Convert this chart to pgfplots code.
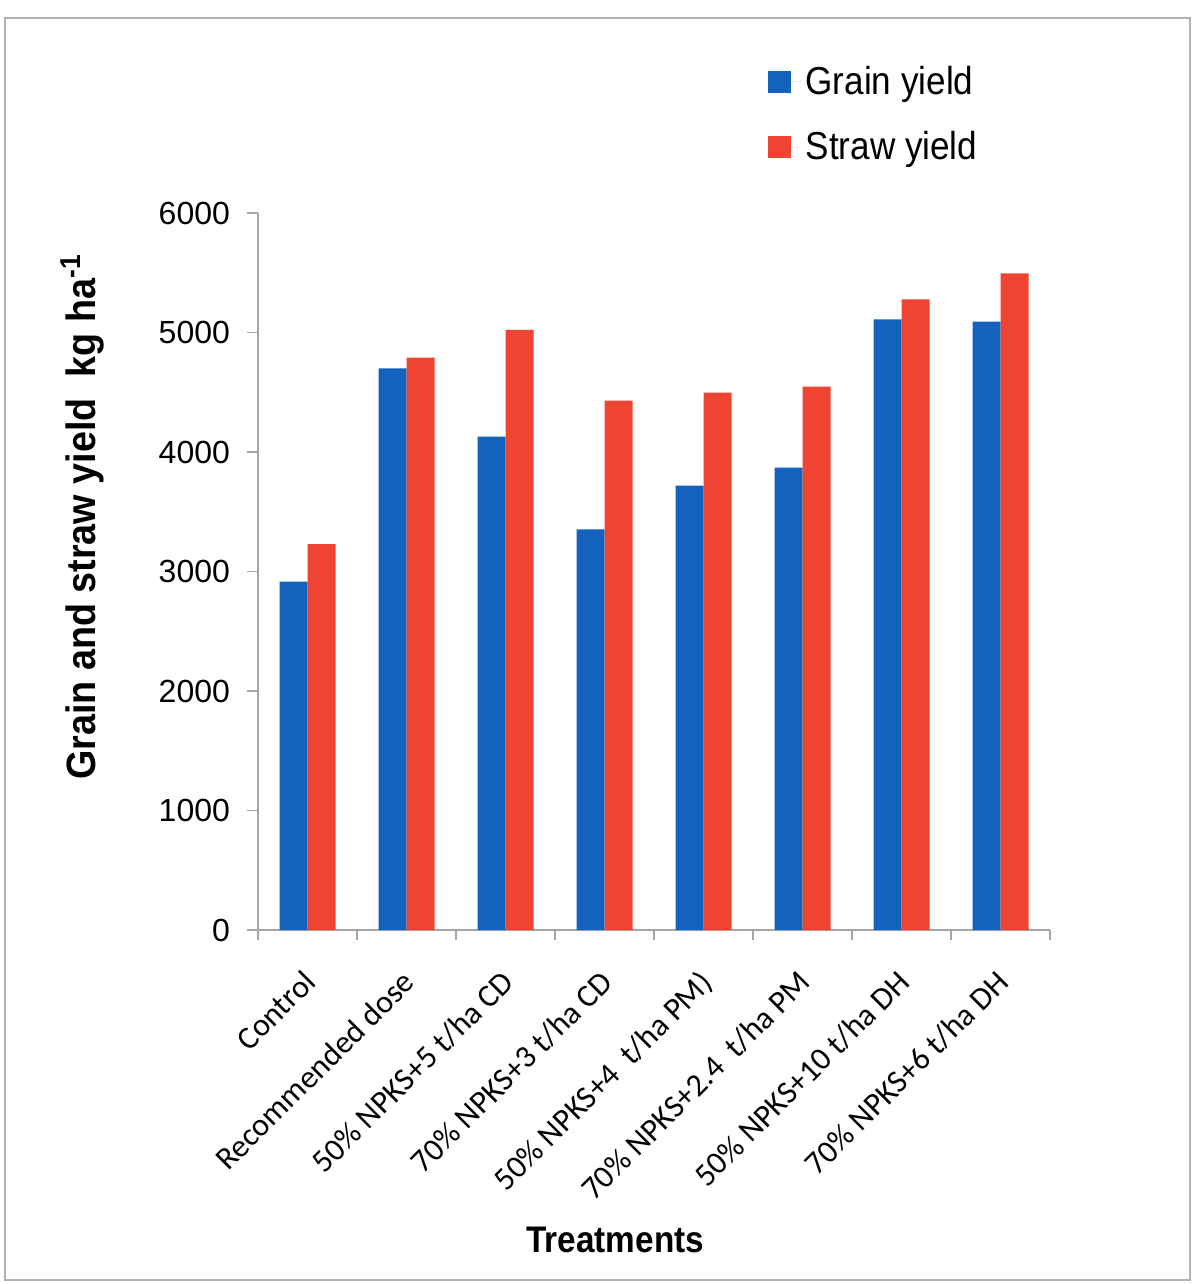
\documentclass[border=0pt]{standalone}
\usepackage{pgfplots}
\pgfplotsset{compat=1.18}
\usepackage{fontspec}
\setmainfont{Liberation Sans}
\newfontfamily\narrowsans[FakeStretch=0.9]{Liberation Sans}
\newfontfamily\ylabfont[FakeStretch=0.92]{Liberation Sans}
\newfontfamily\calibri{Carlito}
\definecolor{grainblue}{RGB}{18,98,190}
\definecolor{strawred}{RGB}{240,68,50}
\begin{document}
\begin{tikzpicture}
\path[use as bounding box] (0pt,0pt) rectangle (597pt,642pt);
\draw[gray!60, line width=0.8pt] (2.5pt,2pt) rectangle (595pt,633pt);
\begin{axis}[
  at={(129pt,177pt)}, anchor=south west,
  scale only axis, width=396pt, height=358.5pt,
  ybar=0pt, bar width=14pt,
  ymin=0, ymax=6000, xmin=-0.5, xmax=7.5,
  axis lines*=left,
  axis line style={gray!70, line width=0.6pt},
  tick style={gray!70, line width=0.6pt},
  tick align=outside,
  major tick length=5.5pt, minor tick length=5pt,
  ytick={0,1000,2000,3000,4000,5000,6000},
  xtick={0,1,2,3,4,5,6,7},
  major x tick style={draw=none},
  minor xtick={-0.5,0.5,1.5,2.5,3.5,4.5,5.5,6.5,7.5},
  xticklabels={Control, Recommended dose, 50\% NPKS+5 t/ha CD, 70\% NPKS+3 t/ha CD, 50\% NPKS+4\ \ t/ha PM), 70\% NPKS+2.4\ \ t/ha PM, 50\% NPKS+10 t/ha DH, 70\% NPKS+6 t/ha DH},
  x tick label style={xshift=-3pt, yshift=-12pt, rotate=45, anchor=north east, font=\calibri\fontsize{16}{18}\selectfont, inner sep=1pt},
  y tick label style={font=\fontsize{16}{19}\selectfont, xshift=-5pt},
  /pgf/number format/assume math mode=true,
  /pgf/number format/set thousands separator={},
  scaled y ticks=false,
  ylabel={Grain and straw yield\ \ kg ha\textsuperscript{-1}},
  ylabel style={at={(axis description cs:-0.222,0.576)}, anchor=center, font=\ylabfont\bfseries\fontsize{20.5}{23}\selectfont},
  xlabel={Treatments},
  xlabel style={at={(axis description cs:0.451,-0.432)}, anchor=center, font=\narrowsans\bfseries\fontsize{18.5}{21}\selectfont},
  legend style={at={(axis description cs:0.643,1.211)}, anchor=north west, draw=none, fill=none, font=\narrowsans\fontsize{19.5}{22}\selectfont, row sep=13pt, inner sep=0pt},
  legend cell align=left,
  legend image code/.code={\path (0pt,0pt) -- (17pt,0pt); \fill[#1] (0pt,-5.5pt) rectangle (11.5pt,5.5pt);},
]
\addplot[fill=grainblue, draw=none] coordinates {(0,2915) (1,4700) (2,4128) (3,3353) (4,3718) (5,3869) (6,5110) (7,5091)};
\addplot[fill=strawred, draw=none] coordinates {(0,3230) (1,4789) (2,5021) (3,4429) (4,4496) (5,4547) (6,5278) (7,5495)};
\legend{Grain yield, Straw yield}
\end{axis}
\end{tikzpicture}
\end{document}
